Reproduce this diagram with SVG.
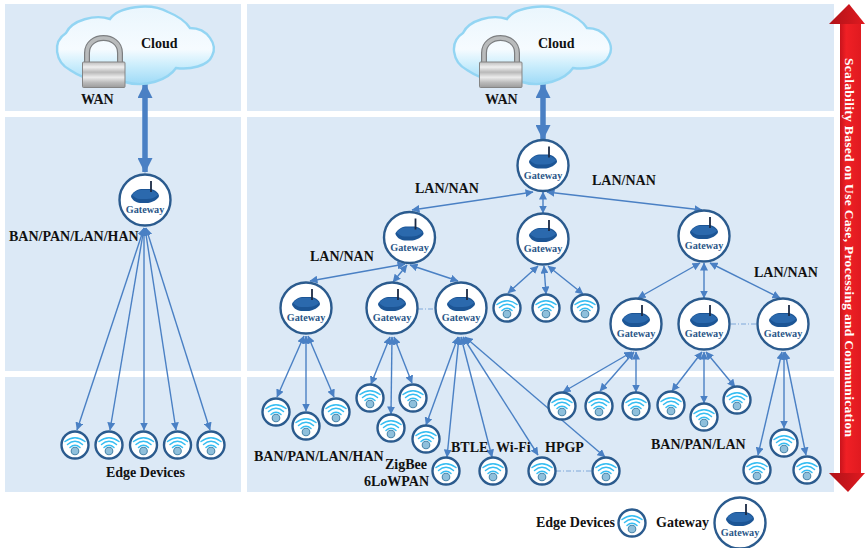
<svg xmlns="http://www.w3.org/2000/svg" width="865" height="548" viewBox="0 0 865 548">
<style>
.panel{fill:#dce9f6}
.lbl{font-family:"Liberation Serif",serif;font-weight:bold;font-size:14px;fill:#111}
.gwt{font-family:"Liberation Serif",serif;font-weight:bold;font-size:10.2px;fill:#2b5788;text-anchor:middle}
.ring{fill:#fff;stroke:#2b5b8e;stroke-width:2.4}
.thin{fill:none;stroke:#4a80c4;stroke-width:1.4;marker-start:url(#ah);marker-end:url(#ah)}
.thick{fill:none;stroke:#4a80c4;stroke-width:5.5;marker-start:url(#bh);marker-end:url(#bh)}
.dash{fill:none;stroke:#7ea8da;stroke-width:1;stroke-dasharray:5 2 1 2}
.wifi{fill:none;stroke:#35bdf2;stroke-width:1.5;stroke-linecap:round}
</style>
<defs>
<marker id="ah" viewBox="0 0 8 8" refX="7.5" refY="4" markerWidth="8" markerHeight="8" markerUnits="userSpaceOnUse" orient="auto-start-reverse"><path d="M0 0L8 4L0 8Z" fill="#4a80c4"/></marker>
<marker id="bh" viewBox="0 0 15 15" refX="14" refY="7.5" markerWidth="15" markerHeight="15" markerUnits="userSpaceOnUse" orient="auto-start-reverse"><path d="M0 0L15 7.5L0 15Z" fill="#4a80c4"/></marker>
<linearGradient id="cg" x1="0" y1="0" x2="0" y2="1"><stop offset="0" stop-color="#eaf6fd"/><stop offset=".55" stop-color="#f6fbff"/><stop offset=".75" stop-color="#cdeefc"/><stop offset="1" stop-color="#9edaf7"/></linearGradient>
<linearGradient id="lg" x1="0" y1="0" x2="0" y2="1"><stop offset="0" stop-color="#bdbdbd"/><stop offset=".2" stop-color="#efefef"/><stop offset=".4" stop-color="#b9b9b9"/><stop offset=".6" stop-color="#ececec"/><stop offset=".8" stop-color="#bbb"/><stop offset="1" stop-color="#9c9c9c"/></linearGradient>
<linearGradient id="ag" x1="0" y1="0" x2="1" y2="0"><stop offset="0" stop-color="#c8141c"/><stop offset=".3" stop-color="#f02025"/><stop offset="1" stop-color="#e01a20"/></linearGradient>
<linearGradient id="hb" x1="0" y1="0" x2="1" y2="0"><stop offset="0" stop-color="#b01218"/><stop offset="1" stop-color="#e01a20"/></linearGradient>
<g id="cloud">
<path d="M70 70C55 62 52 42 66 33C72 20 95 14 110 19C118 7 150 2 168 12C178 16 186 22 190 28C208 28 218 45 212 56C208 66 190 70 176 68C168 80 145 88 125 82C105 85 85 80 70 70Z" fill="url(#cg)" stroke="#93d5f3" stroke-width="2.4"/>
<path d="M87 63V53C87 33 120 33 120 53V63" fill="none" stroke="#7c7e80" stroke-width="6"/>
<path d="M87 63V53C87 33 120 33 120 53V63" fill="none" stroke="#b9bbbc" stroke-width="3.6"/>
<rect x="82.500" y="62" width="42.500" height="25.500" rx="1" fill="url(#lg)" stroke="#858585"/>
</g>
<g id="gwi">
<circle class="ring" r="25.5"/>
<path d="M-14 -4C-13 -7 -8 -11 -4 -11H6C10 -10 14 -7 14 -4C14 -1 6 3 3 3H-5C-9 3 -14 -1 -14 -4Z" fill="#1c5595"/>
<path d="M-13 -5C-11 -8 -8 -10 -4 -10H6C9 -9 12 -7 13 -5C9 -2 6 -1 2 -1H-5C-8 -1 -11 -3 -13 -5Z" fill="#2b69ad"/>
<path d="M6 -8V-19" stroke="#1a2a44" stroke-width="1.8"/>
</g>
<g id="edi">
<circle class="ring" r="13.5"/>
<path class="wifi" d="M-10 -3.500Q0 -11 10 -3.500M-7.500 -.5Q0 -7 7.500 -.5M-5 2.500Q0 -2 5 2.500"/>
<circle cy="6" r="3.800" fill="#8fc0dc" stroke="#4c87ab" stroke-width="1.1"/>
</g>
</defs>

<g id="panels">
<rect class="panel" x="5" y="4" width="236" height="107"/>
<rect class="panel" x="5" y="117" width="236" height="254"/>
<rect class="panel" x="5" y="377" width="236" height="115"/>
<rect class="panel" x="247" y="4" width="587" height="107"/>
<rect class="panel" x="247" y="117" width="587" height="254"/>
<rect class="panel" x="247" y="377" width="587" height="115"/>
</g>

<g id="scale-arrow">
<path d="M840 24H861V473H840Z" fill="url(#ag)"/>
<path d="M849 4L865 24H829Z" fill="url(#hb)"/>
<path d="M848 492L865 473H829Z" fill="url(#hb)"/>
<text transform="translate(845,58) rotate(90)" font-family="Liberation Serif,serif" font-weight="bold" font-size="13.500" fill="#fff" textLength="379">Scalability Based on Use Case, Processing and Communication</text>
</g>

<g id="connectors">
<path class="thick" d="M145 84V172"/>
<path class="thick" d="M543 84V139"/>
<path class="thin" d="M144 228L77 430"/><path class="thin" d="M144 228L110 430"/><path class="thin" d="M144 228V430"/><path class="thin" d="M145 228L176 430"/><path class="thin" d="M146 228L210 430"/>
<path class="thin" d="M533 192L412 210"/><path class="thin" d="M547 192L702 210"/><path class="thin" d="M543 192V213"/>
<path class="thin" d="M405 264L310 281"/><path class="thin" d="M407 265L393 282"/><path class="thin" d="M410 265L458 281"/>
<path class="thin" d="M538 266L508 293"/><path class="thin" d="M544 266L546 294"/><path class="thin" d="M548 266L583 294"/>
<path class="thin" d="M700 263L638 298"/><path class="thin" d="M704 263V298"/><path class="thin" d="M710 263L780 298"/>
<path class="thin" d="M304 336L277 397"/><path class="thin" d="M306 336V411"/><path class="thin" d="M308 336L334 397"/>
<path class="thin" d="M390 337L371 384"/><path class="thin" d="M392 337L391 414"/><path class="thin" d="M394 337L412 383"/>
<path class="thin" d="M458 337L426 425"/><path class="thin" d="M459 337L447 457"/><path class="thin" d="M461 337L492 457"/><path class="thin" d="M463 337L538 455"/><path class="thin" d="M465 337L605 457"/>
<path class="thin" d="M632 352L563 392"/><path class="thin" d="M634 352L600 391"/><path class="thin" d="M636 352V392"/>
<path class="thin" d="M702 352L672 391"/><path class="thin" d="M704 352V403"/><path class="thin" d="M706 352L735 387"/>
<path class="thin" d="M782 352L758 455"/><path class="thin" d="M784 352V428"/><path class="thin" d="M785 352L806 455"/>
<path class="dash" d="M418 309H435"/><path class="dash" d="M731 324H757"/><path class="dash" d="M556 471H592"/>
</g>

<g id="cloud-left"><use href="#cloud"/><text class="lbl" x="141" y="48">Cloud</text><text class="lbl" x="81" y="104">WAN</text></g>
<g id="cloud-right"><use href="#cloud" x="397"/><text class="lbl" x="538" y="48">Cloud</text><text class="lbl" x="485" y="104">WAN</text></g>

<g id="gw-l" transform="translate(145,200)"><use href="#gwi"/><text class="gwt" y="13">Gateway</text></g>
<g id="gw-root" transform="translate(543,165.500)"><use href="#gwi"/><text class="gwt" y="13">Gateway</text></g>
<g id="gw-a" transform="translate(409.500,237.500)"><use href="#gwi"/><text class="gwt" y="13">Gateway</text></g>
<g id="gw-b" transform="translate(543,239)"><use href="#gwi"/><text class="gwt" y="13">Gateway</text></g>
<g id="gw-c" transform="translate(704,236)"><use href="#gwi"/><text class="gwt" y="13">Gateway</text></g>
<g id="gw-a1" transform="translate(306,308)"><use href="#gwi"/><text class="gwt" y="13">Gateway</text></g>
<g id="gw-a2" transform="translate(392,308)"><use href="#gwi"/><text class="gwt" y="13">Gateway</text></g>
<g id="gw-a3" transform="translate(461,308)"><use href="#gwi"/><text class="gwt" y="13">Gateway</text></g>
<g id="gw-c1" transform="translate(636,324)"><use href="#gwi"/><text class="gwt" y="13">Gateway</text></g>
<g id="gw-c2" transform="translate(704,324)"><use href="#gwi"/><text class="gwt" y="13">Gateway</text></g>
<g id="gw-c3" transform="translate(783,324)"><use href="#gwi"/><text class="gwt" y="13">Gateway</text></g>
<g id="gw-legend" transform="translate(740,523)"><use href="#gwi"/><text class="gwt" y="13">Gateway</text></g>

<g id="edge-l1"><use href="#edi" x="75" y="445"/></g>
<g id="edge-l2"><use href="#edi" x="109" y="445"/></g>
<g id="edge-l3"><use href="#edi" x="143.500" y="445"/></g>
<g id="edge-l4"><use href="#edi" x="177.500" y="445"/></g>
<g id="edge-l5"><use href="#edi" x="211" y="445"/></g>
<g id="edge-r1"><use href="#edi" x="276" y="412"/></g>
<g id="edge-r2"><use href="#edi" x="306" y="426"/></g>
<g id="edge-r3"><use href="#edi" x="336" y="412"/></g>
<g id="edge-r4"><use href="#edi" x="370" y="398"/></g>
<g id="edge-r5"><use href="#edi" x="413" y="398"/></g>
<g id="edge-r6"><use href="#edi" x="391" y="428"/></g>
<g id="edge-r7"><use href="#edi" x="426" y="439"/></g>
<g id="edge-r8"><use href="#edi" x="446" y="471"/></g>
<g id="edge-r9"><use href="#edi" x="493" y="471"/></g>
<g id="edge-r10"><use href="#edi" x="542" y="471"/></g>
<g id="edge-r11"><use href="#edi" x="606" y="471"/></g>
<g id="edge-r12"><use href="#edi" x="507" y="308"/></g>
<g id="edge-r13"><use href="#edi" x="546" y="308"/></g>
<g id="edge-r14"><use href="#edi" x="585" y="308"/></g>
<g id="edge-r15"><use href="#edi" x="562" y="406"/></g>
<g id="edge-r16"><use href="#edi" x="599" y="406"/></g>
<g id="edge-r17"><use href="#edi" x="636" y="406"/></g>
<g id="edge-r18"><use href="#edi" x="671" y="405"/></g>
<g id="edge-r19"><use href="#edi" x="704" y="417"/></g>
<g id="edge-r20"><use href="#edi" x="737" y="400"/></g>
<g id="edge-r21"><use href="#edi" x="784" y="443"/></g>
<g id="edge-r22"><use href="#edi" x="757" y="470"/></g>
<g id="edge-r23"><use href="#edi" x="807" y="470"/></g>
<g id="edge-legend"><use href="#edi" x="632" y="523"/></g>

<g id="labels">
<text class="lbl" x="9" y="241">BAN/PAN/LAN/HAN</text>
<text class="lbl" x="106" y="477">Edge Devices</text>
<text class="lbl" x="415" y="193">LAN/NAN</text>
<text class="lbl" x="592" y="185">LAN/NAN</text>
<text class="lbl" x="754" y="277">LAN/NAN</text>
<text class="lbl" x="310" y="261">LAN/NAN</text>
<text class="lbl" x="254" y="461">BAN/PAN/LAN/HAN</text>
<text class="lbl" x="385" y="469">ZigBee</text>
<text class="lbl" x="364" y="486">6LoWPAN</text>
<text class="lbl" x="451" y="452">BTLE</text>
<text class="lbl" x="496" y="452">Wi-Fi</text>
<text class="lbl" x="545" y="452">HPGP</text>
<text class="lbl" x="651" y="449">BAN/PAN/LAN</text>
<text class="lbl" x="536" y="527">Edge Devices</text>
<text class="lbl" x="656" y="527">Gateway</text>
</g>
</svg>
